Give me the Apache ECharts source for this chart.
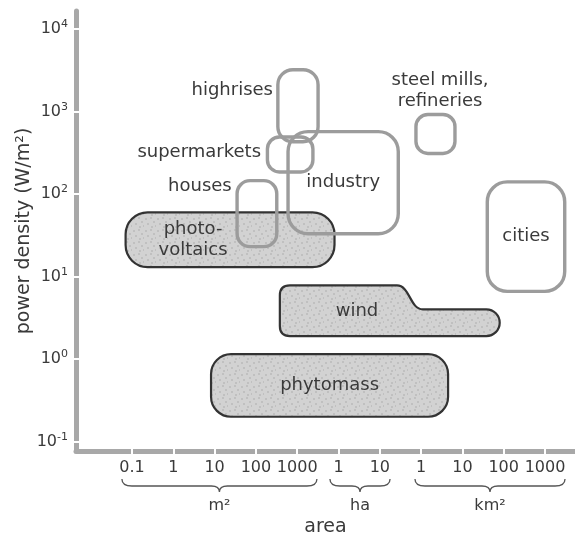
<!DOCTYPE html>
<html>
<head>
<meta charset="utf-8">
<script src="https://cdn.jsdelivr.net/npm/echarts@6/dist/echarts.min.js"></script>
<style>
  html, body { margin: 0; padding: 0; background: #fff; }
  #chart { width: 575px; height: 542px; }
</style>
</head>
<body>
<div id="chart"></div>
<script>
// Power densities of energy sources and consumers against the area they occupy.
// Areas in m², densities in W/m²; both axes are drawn in decades (log10).
const names     = ['photo-\nvoltaics', 'wind', 'phytomass', 'houses', 'industry',
                   'supermarkets', 'highrises', 'steel mills,\nrefineries', 'cities'];
const filled    = [true, true, true, false, false, false, false, false, false];
const areaMin   = [0.07, 380, 8.2, 35, 600, 190, 340, 7.5e5, 4e7];
const areaMax   = [8000, 8e7, 4.5e6, 320, 2.8e5, 2400, 3200, 6.6e6, 3e9];
const densMin   = [13, 1.9, 0.2, 23, 33, 185, 430, 310, 6.6];
const densMax   = [60, 7.8, 1.15, 145, 570, 490, 3200, 920, 140];

// large wind farms reach lower densities: the outline steps down here
const windStepArea = [2.6e5, 1.1e6];
const windStepDens = 4.0;

// label anchors (null = centred in the shape)
const labelArea = [3.0, 2.8e4, null, 26, null, 133, 259, 2.87e6, null];
const labelDens = [null, 3.8, null, 125, null, 321, 1790, 1766, null];
const labelSide = ['center', 'center', 'center', 'right', 'center', 'right', 'right', 'center', 'center'];

// tick labels along the area axis (decades of m² from 0.1 m² to 1000 km²)
const xTickExp    = [-1, 0, 1, 2, 3, 4, 5, 6, 7, 8, 9];
const xTickLabels = ['0.1', '1', '10', '100', '1000', '1', '10', '1', '10', '100', '1000'];
const yTickExp    = [-1, 0, 1, 2, 3, 4];

// unit groups under the area axis
const unitNames = ['m²', 'ha', 'km²'];
const unitFrom  = [0.057, 6200, 7.1e5];
const unitTo    = [3000, 1.77e5, 3.05e9];

const lg = Math.log10;
const X_MIN = -2.356, X_MAX = 9.726;
const Y_MIN = -1.114, Y_MAX = 4.217;

const FONT = '"DejaVu Sans", "Liberation Sans", sans-serif';
const TEXT = '#3a3a3a';
const cornerRadius = [22, 10, 20, 13, 20, 12, 15, 12, 20];

// mottled grey fill for the energy sources
const tile = document.createElement('canvas');
tile.width = tile.height = 12;
(function () {
  const g = tile.getContext('2d');
  g.fillStyle = '#d2d2d2';
  g.fillRect(0, 0, 12, 12);
  g.fillStyle = '#c0c0c0';
  [[1, 2], [6, 1], [3, 7], [9, 5], [7, 10], [11, 9]].forEach(function (p) {
    g.fillRect(p[0], p[1], 2, 2);
  });
})();
const stipple = { image: tile, repeat: 'repeat' };

function windPath(i, api) {
  const tl = api.coord([lg(areaMin[i]), lg(densMax[i])]);
  const br = api.coord([lg(areaMax[i]), lg(densMin[i])]);
  const s0 = api.coord([lg(windStepArea[0]), lg(windStepDens)]);
  const s1 = api.coord([lg(windStepArea[1]), lg(windStepDens)]);
  const x0 = tl[0], yT = tl[1], x1 = br[0], yB = br[1], yL = s0[1];
  const r = cornerRadius[i];
  const rr = (yB - yL) / 2, k = rr * 0.552, ym = (yL + yB) / 2;
  const xm = (s0[0] + s1[0]) / 2;
  return 'M' + x0 + ' ' + (yT + r) +
    ' Q' + x0 + ' ' + yT + ' ' + (x0 + r) + ' ' + yT +
    ' L' + s0[0] + ' ' + yT +
    ' C' + xm + ' ' + yT + ' ' + xm + ' ' + yL + ' ' + s1[0] + ' ' + yL +
    ' L' + (x1 - rr) + ' ' + yL +
    ' C' + (x1 - rr + k) + ' ' + yL + ' ' + x1 + ' ' + (ym - k) + ' ' + x1 + ' ' + ym +
    ' C' + x1 + ' ' + (ym + k) + ' ' + (x1 - rr + k) + ' ' + yB + ' ' + (x1 - rr) + ' ' + yB +
    ' L' + (x0 + r) + ' ' + yB +
    ' Q' + x0 + ' ' + yB + ' ' + x0 + ' ' + (yB - r) + ' Z';
}

function renderShape(params, api) {
  const i = api.value(0);
  const tl = api.coord([lg(areaMin[i]), lg(densMax[i])]);
  const br = api.coord([lg(areaMax[i]), lg(densMin[i])]);
  const style = {
    fill: filled[i] ? stipple : 'none',
    stroke: filled[i] ? '#333' : '#9c9c9c',
    lineWidth: filled[i] ? 2.2 : 3.4
  };
  const shape = names[i] === 'wind'
    ? { type: 'path', shape: { pathData: windPath(i, api) }, style: style }
    : { type: 'rect', shape: { x: tl[0], y: tl[1], width: br[0] - tl[0], height: br[1] - tl[1], r: cornerRadius[i] }, style: style };

  const lx = labelArea[i] != null ? api.coord([lg(labelArea[i]), 0])[0] : (tl[0] + br[0]) / 2;
  const ly = labelDens[i] != null ? api.coord([0, lg(labelDens[i])])[1] : (tl[1] + br[1]) / 2;
  const label = {
    type: 'text', x: lx, y: ly, z2: 10,
    style: {
      text: names[i], font: '18px ' + FONT, fill: TEXT,
      align: labelSide[i], verticalAlign: 'middle', lineHeight: 21
    }
  };
  return { type: 'group', children: [shape, label] };
}

function renderBrace(params, api) {
  const i = api.value(0);
  const a = api.coord([lg(unitFrom[i]), Y_MIN]);
  const b = api.coord([lg(unitTo[i]), Y_MIN]);
  const x0 = a[0], x1 = b[0], xm = (x0 + x1) / 2;
  const yEnd = a[1] + 28, yLine = a[1] + 35, yTip = a[1] + 41;
  const path = 'M' + x0 + ' ' + yEnd +
    ' Q' + x0 + ' ' + yLine + ' ' + (x0 + 10) + ' ' + yLine +
    ' L' + (xm - 8) + ' ' + yLine +
    ' Q' + xm + ' ' + yLine + ' ' + xm + ' ' + yTip +
    ' Q' + xm + ' ' + yLine + ' ' + (xm + 8) + ' ' + yLine +
    ' L' + (x1 - 10) + ' ' + yLine +
    ' Q' + x1 + ' ' + yLine + ' ' + x1 + ' ' + yEnd;
  return {
    type: 'group',
    children: [
      { type: 'path', shape: { pathData: path }, style: { fill: 'none', stroke: '#555', lineWidth: 1.3 } },
      { type: 'text', x: xm, y: yTip + 14,
        style: { text: unitNames[i], font: '16px ' + FONT, fill: TEXT, align: 'center', verticalAlign: 'middle' } }
    ]
  };
}

const axisGrey = '#a8a8a8';
const chart = echarts.init(document.getElementById('chart'), null, { renderer: 'canvas' });
chart.setOption({
  animation: false,
  backgroundColor: '#fff',
  grid: { left: 76, right: 0, top: 11, bottom: 88.5 },
  xAxis: [{
    type: 'value', min: X_MIN, max: X_MAX, position: 'bottom',
    axisLine: { show: true, onZero: false, lineStyle: { color: axisGrey, width: 5 } },
    axisTick: { show: false },
    splitLine: { show: false },
    axisLabel: {
      customValues: xTickExp, margin: 9,
      formatter: function (v) { return xTickLabels[xTickExp.indexOf(Math.round(v))]; },
      color: TEXT, fontSize: 16, fontFamily: FONT
    },
    name: 'area', nameLocation: 'middle', nameGap: 67, nameMoveOverlap: false,
    nameTextStyle: { color: TEXT, fontSize: 19, fontFamily: FONT }
  }, {
    type: 'value', min: X_MIN, max: X_MAX, position: 'bottom', offset: 3,
    axisLine: { show: false, onZero: false }, splitLine: { show: false }, axisLabel: { show: false },
    axisTick: { show: true, inside: true, length: 6, customValues: xTickExp, lineStyle: { color: '#fff', width: 2 } }
  }],
  yAxis: [{
    type: 'value', min: Y_MIN, max: Y_MAX, position: 'left',
    axisLine: { show: true, onZero: false, lineStyle: { color: axisGrey, width: 5 } },
    axisTick: { show: false },
    splitLine: { show: false },
    axisLabel: {
      customValues: yTickExp, margin: 8,
      formatter: function (v) {
        const e = Math.round(v);
        return '{b|10}{s|' + (e < 0 ? '-' : '') + Math.abs(e) + '}';
      },
      rich: {
        b: { fontSize: 16, fontFamily: FONT, color: TEXT, lineHeight: 20 },
        s: { fontSize: 11, fontFamily: FONT, color: TEXT, lineHeight: 11, verticalAlign: 'top' }
      }
    },
    name: 'power density (W/m²)', nameLocation: 'middle', nameGap: 42, nameMoveOverlap: false,
    nameTextStyle: { color: TEXT, fontSize: 19, fontFamily: FONT }
  }, {
    type: 'value', min: Y_MIN, max: Y_MAX, position: 'left', offset: 3,
    axisLine: { show: false, onZero: false }, splitLine: { show: false }, axisLabel: { show: false },
    axisTick: { show: true, inside: true, length: 6, customValues: yTickExp, lineStyle: { color: '#fff', width: 2 } }
  }],
  series: [{
    type: 'custom', name: 'shapes', xAxisIndex: 0, yAxisIndex: 0, clip: false,
    data: names.map(function (_, i) { return [i]; }),
    renderItem: renderShape
  }, {
    type: 'custom', name: 'units', xAxisIndex: 0, yAxisIndex: 0, clip: false,
    data: unitNames.map(function (_, i) { return [i]; }),
    renderItem: renderBrace
  }]
});
</script>
</body>
</html>
